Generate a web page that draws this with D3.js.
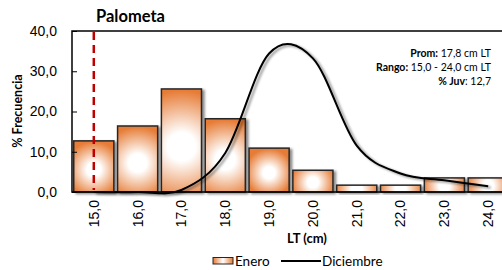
<!DOCTYPE html>
<html>
<head>
<meta charset="utf-8">
<script src="https://cdn.jsdelivr.net/npm/d3@7"></script>
<style>
  body { margin: 0; background: #fff; }
  svg { display: block; font-family: Lato, "Open Sans", sans-serif; }
</style>
</head>
<body>
<div id="chart"></div>
<script>
// Categories (talla LT en cm)
var categorias = ['15,0', '16,0', '17,0', '18,0', '19,0', '20,0', '21,0', '22,0', '23,0', '24,0'];
// % frecuencia, enero (barras)
var enero = [12.7, 16.4, 25.6, 18.2, 10.9, 5.4, 1.7, 1.7, 3.5, 3.5];
// % frecuencia, diciembre (linea suavizada)
var diciembre = [0, 0, 0.5, 9.7, 34.4, 33.2, 11.5, 4.6, 2.9, 1.4];
var yTicks = [0, 10, 20, 30, 40];
var tallaJuvenil = '15,0';
var anotacion = [
  ['Prom:', ' 17,8 cm LT'],
  ['Rango:', ' 15,0 - 24,0 cm LT'],
  ['% Juv', ': 12,7']
];

var width = 502, height = 270;
var plot = { left: 72, right: 510, top: 31, bottom: 192 };

var svg = d3.select('#chart').append('svg')
  .attr('width', width)
  .attr('height', height);

var defs = svg.append('defs');

var x = d3.scaleBand()
  .domain(categorias)
  .range([plot.left, plot.right])
  .paddingInner(0.085)
  .paddingOuter(0.04);

var y = d3.scaleLinear()
  .domain([0, 40])
  .range([plot.bottom, plot.top]);

var fmt = function (d) { return d3.format('.1f')(d).replace('.', ','); };
var cx = function (c) { return x(c) + x.bandwidth() / 2; };

// one gradient per bar: round white center fading to orange edges
defs.selectAll('radialGradient')
  .data(enero)
  .join('radialGradient')
  .attr('id', function (d, i) { return 'barFill' + i; })
  .attr('cx', 0.5).attr('cy', 0.56).attr('fx', 0.5).attr('fy', 0.56).attr('r', 1)
  .attr('gradientTransform', function (d) {
    var w = x.bandwidth(), h = y(0) - y(d);
    var R = Math.max(w, h) * 0.55;
    return 'translate(0.5,0.56) scale(' + (R / w) + ',' + (R / h) + ') translate(-0.5,-0.56)';
  })
  .call(function (g) {
    g.append('stop').attr('offset', 0).attr('stop-color', '#ffffff');
    g.append('stop').attr('offset', 0.25).attr('stop-color', '#ffffff');
    g.append('stop').attr('offset', 1).attr('stop-color', '#e67b35');
  });

var legGrad = defs.append('linearGradient').attr('id', 'legFill');
legGrad.append('stop').attr('offset', 0).attr('stop-color', '#e67b35');
legGrad.append('stop').attr('offset', 0.5).attr('stop-color', '#ffffff');
legGrad.append('stop').attr('offset', 1).attr('stop-color', '#e67b35');

var shadow = defs.append('filter').attr('id', 'shadow')
  .attr('x', -0.2).attr('y', -0.2).attr('width', 1.5).attr('height', 1.5);
shadow.append('feDropShadow')
  .attr('dx', 2.5).attr('dy', 1.5).attr('stdDeviation', 1)
  .attr('flood-color', '#000').attr('flood-opacity', 0.45);

// bars
svg.append('g')
  .selectAll('rect')
  .data(enero)
  .join('rect')
  .attr('x', function (d, i) { return x(categorias[i]); })
  .attr('y', function (d) { return y(d); })
  .attr('width', x.bandwidth())
  .attr('height', function (d) { return y(0) - y(d); })
  .attr('fill', function (d, i) { return 'url(#barFill' + i + ')'; })
  .attr('stroke', '#262626')
  .attr('stroke-width', 1.5)
  .attr('filter', 'url(#shadow)');

// juvenile size marker
svg.append('line')
  .attr('x1', cx(tallaJuvenil)).attr('x2', cx(tallaJuvenil))
  .attr('y1', y(40) + 1).attr('y2', y(0) - 2)
  .attr('stroke', '#c00000')
  .attr('stroke-width', 2.5)
  .attr('stroke-dasharray', '8,5');

// smoothed december line
var line = d3.line()
  .x(function (d, i) { return cx(categorias[i]); })
  .y(function (d) { return y(d); })
  .curve(d3.curveCardinal.tension(0));

svg.append('path')
  .datum(diciembre)
  .attr('d', line)
  .attr('fill', 'none')
  .attr('stroke', '#000')
  .attr('stroke-width', 2)
  .attr('filter', 'url(#shadow)');

// plot frame (top, left, bottom)
svg.append('path')
  .attr('d', 'M' + width + ',' + plot.top + 'H' + plot.left + 'V' + plot.bottom + 'H' + width)
  .attr('fill', 'none')
  .attr('stroke', '#000')
  .attr('stroke-width', 1.5);

// y axis
var yAxis = svg.append('g')
  .attr('transform', 'translate(' + plot.left + ',0)')
  .call(d3.axisLeft(y).tickValues(yTicks).tickFormat(fmt).tickSizeInner(-5).tickSizeOuter(0).tickPadding(15));
yAxis.select('.domain').remove();
yAxis.selectAll('line').attr('stroke', '#000');
yAxis.selectAll('text')
  .attr('font-family', null)
  .attr('font-size', 14)
  .attr('fill', '#000');

// x axis labels
var xAxis = svg.append('g')
  .attr('transform', 'translate(0,' + plot.bottom + ')')
  .call(d3.axisBottom(x).tickSize(0));
xAxis.select('.domain').remove();
xAxis.selectAll('text')
  .attr('font-family', null)
  .attr('font-size', 14)
  .attr('fill', '#000')
  .attr('text-anchor', 'end')
  .attr('dy', '0.35em')
  .attr('transform', 'translate(0,8) rotate(-90)')
  .attr('x', 0).attr('y', 0);

// titles
svg.append('text')
  .attr('x', 96).attr('y', 22)
  .attr('font-size', 16.5).attr('font-weight', 'bold')
  .text('Palometa');

svg.append('text')
  .attr('transform', 'translate(22,111) rotate(-90)')
  .attr('text-anchor', 'middle')
  .attr('font-size', 12.5).attr('font-weight', 'bold')
  .text('% Frecuencia');

svg.append('text')
  .attr('x', 307).attr('y', 243)
  .attr('text-anchor', 'middle')
  .attr('font-size', 13).attr('font-weight', 'bold')
  .text('LT (cm)');

// summary box
var ann = svg.append('g').attr('font-size', 10.5).attr('text-anchor', 'end');
anotacion.forEach(function (a, i) {
  var t = ann.append('text').attr('x', 491).attr('y', 57 + i * 14);
  t.append('tspan').attr('font-weight', 'bold').text(a[0]);
  t.append('tspan').text(a[1]);
});

// legend
var leg = svg.append('g').attr('font-size', 13.5);
leg.append('rect')
  .attr('x', 213).attr('y', 257.5).attr('width', 20).attr('height', 6.5)
  .attr('fill', 'url(#legFill)').attr('stroke', '#262626').attr('stroke-width', 1);
leg.append('text').attr('x', 235).attr('y', 265.5).text('Enero');
leg.append('line')
  .attr('x1', 281).attr('x2', 321).attr('y1', 261).attr('y2', 261)
  .attr('stroke', '#000').attr('stroke-width', 2);
leg.append('text').attr('x', 322).attr('y', 265.5).text('Diciembre');
</script>
</body>
</html>
